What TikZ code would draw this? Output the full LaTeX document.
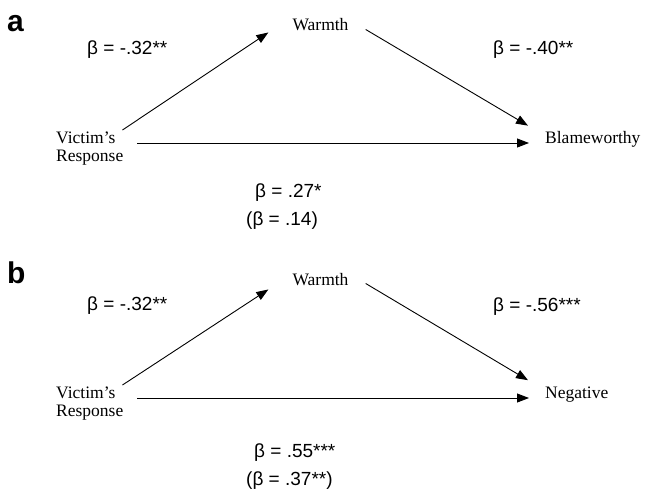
\documentclass[tikz,border=0pt]{standalone}
\usepackage{fontspec}
\setmainfont{Liberation Serif}
\newfontfamily\arialfont{Liberation Sans}
\usetikzlibrary{arrows.meta}

\begin{document}
\begin{tikzpicture}[x=1pt,y=-1pt,
  var/.style={inner sep=2pt,font=\fontsize{17.5}{18}\selectfont},
  coef/.style={inner sep=2pt,anchor=base west,font=\arialfont\fontsize{19}{22}\selectfont},
  panel/.style={inner sep=2pt,anchor=base west,font=\arialfont\bfseries\fontsize{30}{32}\selectfont},
  arr/.style={-{Triangle[length=12pt,width=9pt]},line width=0.9pt}]
\useasboundingbox (0,0) rectangle (646,499);
\node[panel] (labA) at (5,31) {a};
\node[var,anchor=base] (warmA) at (320.5,30) {Warmth};
\node[var,align=left,anchor=north west] (victA) at (54,130) {Victim's\\Response};
\node[var,anchor=base west] (blame) at (543,143) {Blameworthy};
\node[coef] (pA) at (85,54) {β = -.32**};
\node[coef] (qA) at (491,54) {β = -.40**};
\node[coef] (cA) at (253,197) {β = .27*};
\node[coef] (dA) at (244,225) {(β = .14)};
\draw[arr] ([xshift=-3pt]victA.north east) -- ([xshift=-22pt]warmA.south west);
\draw[arr] ([xshift=15pt,yshift=3pt]warmA.south east) -- ([xshift=-15pt,yshift=3pt]blame.north west);
\draw[arr,shorten <=12pt,shorten >=14pt] (victA.east |- blame.base west) -- (blame.base west);
\node[panel] (labB) at (5,283) {b};
\node[var,anchor=base] (warmB) at (320.5,285) {Warmth};
\node[var,align=left,anchor=north west] (victB) at (54,385) {Victim's\\Response};
\node[var,anchor=base west] (negB) at (543,398) {Negative};
\node[coef] (pB) at (85,310) {β = -.32**};
\node[coef] (qB) at (491,311) {β = -.56***};
\node[coef] (cB) at (252,457) {β = .55***};
\node[coef] (dB) at (244,485) {(β = .37**)};
\draw[arr] ([xshift=-3pt]victB.north east) -- ([xshift=-22pt,yshift=-2pt]warmB.south west);
\draw[arr] ([xshift=15pt,yshift=4pt]warmB.south east) -- ([xshift=-15pt,yshift=4pt]negB.north west);
\draw[arr,shorten <=12pt,shorten >=14pt] (victB.east |- negB.base west) -- (negB.base west);
\end{tikzpicture}
\end{document}
